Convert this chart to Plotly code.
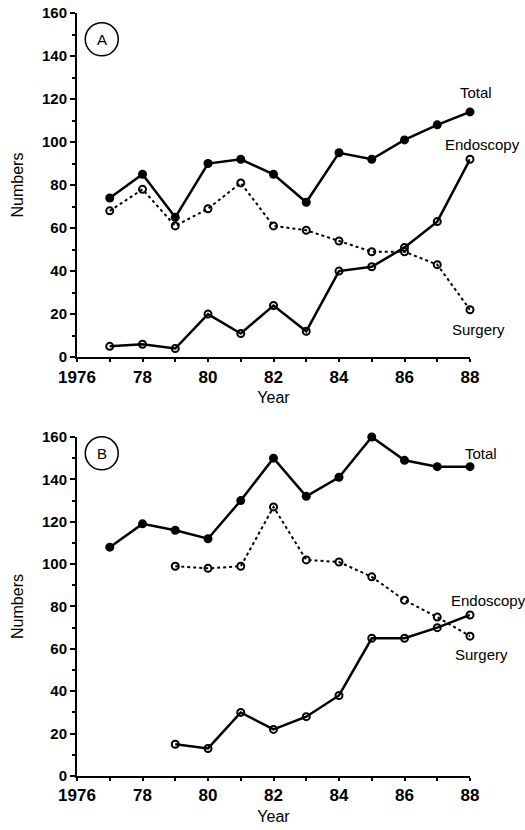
import plotly.graph_objects as go

years = [1977, 1978, 1979, 1980, 1981, 1982, 1983, 1984, 1985, 1986, 1987, 1988]
a_total = [74, 85, 65, 90, 92, 85, 72, 95, 92, 101, 108, 114]
a_surgery = [68, 78, 61, 69, 81, 61, 59, 54, 49, 49, 43, 22]
a_endoscopy = [5, 6, 4, 20, 11, 24, 12, 40, 42, 51, 63, 92]

b_years = [1979, 1980, 1981, 1982, 1983, 1984, 1985, 1986, 1987, 1988]
b_total = [108, 119, 116, 112, 130, 150, 132, 141, 160, 149, 146, 146]
b_surgery = [99, 98, 99, 127, 102, 101, 94, 83, 75, 66]
b_endoscopy = [15, 13, 30, 22, 28, 38, 65, 65, 70, 76]

x_tickvals = [1976, 1978, 1980, 1982, 1984, 1986, 1988]
x_ticktext = ["1976", "78", "80", "82", "84", "86", "88"]
y_tickvals = [0, 20, 40, 60, 80, 100, 120, 140, 160]
X_RANGE = [1976, 1988]
Y_RANGE = [0, 160]

fig = go.Figure()

def add_panel(xa, ya, tx, tot, sx, surg, ex, endo):
    fig.add_trace(go.Scatter(x=tx, y=tot, mode="lines+markers", xaxis=xa, yaxis=ya,
                             line=dict(color="black", width=2.5),
                             marker=dict(symbol="circle", size=9, color="black"),
                             cliponaxis=False, showlegend=False))
    fig.add_trace(go.Scatter(x=sx, y=surg, mode="lines+markers", xaxis=xa, yaxis=ya,
                             line=dict(color="black", width=2, dash="dot"),
                             marker=dict(symbol="circle-open", size=7, color="black", line=dict(width=2)),
                             cliponaxis=False, showlegend=False))
    fig.add_trace(go.Scatter(x=ex, y=endo, mode="lines+markers", xaxis=xa, yaxis=ya,
                             line=dict(color="black", width=2.5),
                             marker=dict(symbol="circle-open", size=7, color="black", line=dict(width=2)),
                             cliponaxis=False, showlegend=False))

add_panel("x", "y", years, a_total, years, a_surgery, years, a_endoscopy)
add_panel("x2", "y2", years, b_total, b_years, b_surgery, b_years, b_endoscopy)

tickfont_x = dict(family="Liberation Sans", size=17, color="black", weight="bold")
tickfont_y = dict(family="Liberation Sans", size=15, color="black", weight="bold")
axis_common = dict(showline=True, linecolor="black", linewidth=2, showgrid=False, zeroline=False,
                   ticks="outside", tickwidth=1.5, tickcolor="black", automargin=False)

xcommon = dict(range=X_RANGE, tickvals=x_tickvals, ticktext=x_ticktext,
               tickfont=tickfont_x, ticklen=3,
               minor=dict(dtick=1, ticks="outside", ticklen=3, tickcolor="black", tickwidth=1.5),
               title=dict(text="Year", font=dict(family="Liberation Sans", size=16, color="black"), standoff=6),
               **axis_common)
ycommon = dict(range=Y_RANGE, tickvals=y_tickvals, tickfont=tickfont_y, ticklen=5,
               minor=dict(dtick=10, ticks="outside", ticklen=3, tickcolor="black", tickwidth=1.5),
               title=dict(text="Numbers", font=dict(family="Liberation Sans", size=16, color="black"), standoff=14),
               **axis_common)

fig.update_layout(
    width=525, height=830,
    margin=dict(l=77, r=55, t=13, b=54),
    paper_bgcolor="white", plot_bgcolor="white",
    xaxis=dict(anchor="y", **xcommon),
    yaxis=dict(domain=[0.549, 1.0], anchor="x", **ycommon),
    xaxis2=dict(anchor="y2", **xcommon),
    yaxis2=dict(domain=[0.0, 0.4443], anchor="x2", **ycommon),
)

label_font = dict(family="Liberation Sans", size=15, color="black")
labels = [
    ("x domain", "y domain", 1988.17, 123, "Total"),
    ("x domain", "y domain", 1988.39, 99, "Endoscopy"),
    ("x domain", "y domain", 1988.25, 13, "Surgery"),
    ("x2 domain", "y2 domain", 1988.35, 152, "Total"),
    ("x2 domain", "y2 domain", 1988.55, 83, "Endoscopy"),
    ("x2 domain", "y2 domain", 1988.35, 57.5, "Surgery"),
]
for xr, yr, xv, yv, t in labels:
    fx = (xv - X_RANGE[0]) / (X_RANGE[1] - X_RANGE[0])
    fy = (yv - Y_RANGE[0]) / (Y_RANGE[1] - Y_RANGE[0])
    fig.add_annotation(x=fx, y=fy, xref=xr, yref=yr, text=t, showarrow=False,
                       font=label_font, xanchor="center", yanchor="middle")

# panel letters in circles
for xr, yr, letter, cy, h in [("x domain", "y domain", "A", (357 - 39.3) / 344, 344),
                              ("x2 domain", "y2 domain", "B", (776 - 453.3) / 339, 339)]:
    cx = 0.063
    rx, ry = 16.5 / 393, 16.5 / h
    fig.add_shape(type="circle", xref=xr, yref=yr, x0=cx - rx, x1=cx + rx, y0=cy - ry, y1=cy + ry,
                  line=dict(color="black", width=1.5))
    fig.add_annotation(x=cx, y=cy, xref=xr, yref=yr, text=letter, showarrow=False,
                       font=dict(family="Liberation Sans", size=15, color="black"),
                       xanchor="center", yanchor="middle")

fig.write_html("out.html", config={"displayModeBar": False},
               post_script="document.body.style.margin='0';document.body.style.overflow='hidden';")
